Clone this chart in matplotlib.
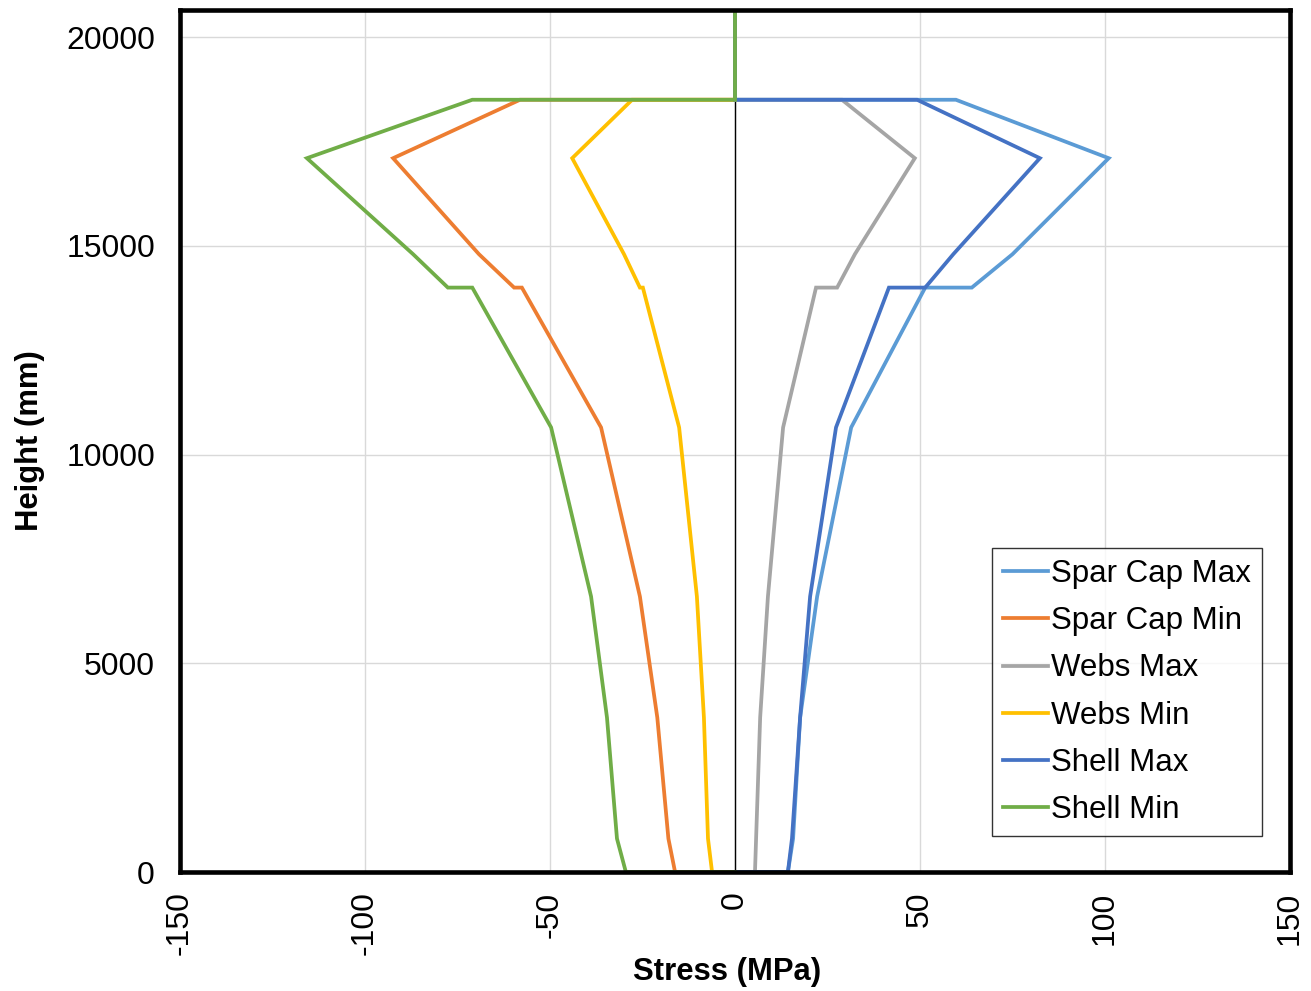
import matplotlib
matplotlib.use("Agg")
import matplotlib.pyplot as plt

heights = [0, 0, 800, 3700, 6600, 10650, 14000, 14000, 14800, 17100, 18500, 18500, 20650]

spar_cap_max = [0, 14.3, 15.7, 17.6, 22.2, 31.4, 51.4, 64.0, 75.0, 101.0, 59.7, 0, 0]
spar_cap_min = [0, -16.2, -18.0, -21.0, -25.7, -36.2, -57.6, -59.7, -69.2, -92.4, -58.1, 0, 0]
webs_max = [0, 5.4, 5.7, 6.8, 8.9, 13.0, 21.9, 27.6, 32.4, 48.6, 28.9, 0, 0]
webs_min = [0, -6.2, -7.3, -8.4, -10.3, -15.1, -24.9, -25.7, -30.0, -44.0, -27.8, 0, 0]
shell_max = [0, 14.3, 15.4, 17.6, 20.3, 27.3, 41.6, 51.4, 59.0, 82.4, 49.2, 0, 0]
shell_min = [0, -29.5, -31.9, -34.6, -38.9, -49.7, -71.0, -77.6, -87.0, -115.7, -71.0, 0, 0]

series_names = ["Spar Cap Max", "Spar Cap Min", "Webs Max", "Webs Min", "Shell Max", "Shell Min"]
series_colors = ["#5B9BD5", "#ED7D31", "#A5A5A5", "#FFC000", "#4472C4", "#70AD47"]

x_ticks = [-150, -100, -50, 0, 50, 100, 150]
y_ticks = [0, 5000, 10000, 15000, 20000]

plt.rcParams['font.family'] = ['Liberation Sans', 'DejaVu Sans']

fig = plt.figure(figsize=(13.11, 9.91), dpi=100)
ax = fig.add_axes([180/1311, 1 - 872/991, (1290-180)/1311, (872-10)/991])

all_series = [spar_cap_max, spar_cap_min, webs_max, webs_min, shell_max, shell_min]
ax.axvline(0, color='black', lw=1.0, zorder=1.5)
for vals, name, col in zip(all_series, series_names, series_colors):
    ax.plot(vals, heights, color=col, lw=2.7, label=name, zorder=2,
            solid_joinstyle='miter')

ax.set_xlim(-150, 150)
ax.set_ylim(0, 20650)
ax.set_xticks(x_ticks)
ax.set_yticks(y_ticks)
ax.set_xticklabels([str(t) for t in x_ticks], rotation=90, fontsize=23)
ax.set_yticklabels([str(t) for t in y_ticks], fontsize=23)
ax.tick_params(axis='x', length=0, pad=14)
ax.tick_params(axis='y', length=0, pad=18)
ax.grid(True, color='#D9D9D9', lw=1.0, zorder=0)
ax.set_axisbelow(True)
for s in ax.spines.values():
    s.set_linewidth(3.3)
    s.set_color('black')

ax.set_xlabel("Stress (MPa)", fontsize=22.3, fontweight='bold')
ax.set_ylabel("Height (mm)", fontsize=22.3, fontweight='bold')
ax.xaxis.set_label_coords(0.4928, -0.099)
ax.yaxis.set_label_coords(-0.122, 0.5)

leg = ax.legend(loc='lower right', bbox_to_anchor=(0.975, 0.0418), borderaxespad=0,
                fontsize=22.5, frameon=True, fancybox=False, edgecolor='black',
                handlelength=1.45, handletextpad=0.1, labelspacing=0.55,
                borderpad=0.35)
leg.get_frame().set_linewidth(1.0)

fig.savefig("out.png", dpi=100)
